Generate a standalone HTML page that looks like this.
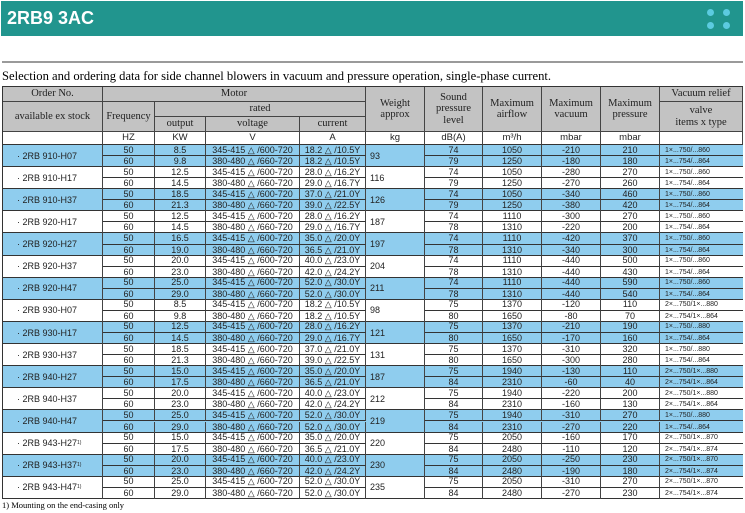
<!DOCTYPE html>
<html><head><meta charset="utf-8"><style>
body{margin:0;width:745px;height:513px;background:#fff;position:relative;overflow:hidden;font-family:"Liberation Sans",sans-serif}
.a{position:absolute;box-sizing:border-box}
.c{position:absolute;box-sizing:border-box;display:flex;align-items:center;justify-content:center;white-space:nowrap;font-size:9px;color:#222;line-height:1}
.h{font-family:"Liberation Serif",serif;font-size:10.5px;text-align:center;flex-direction:column;line-height:1.05;background:#c3c3c3;border-right:1px solid #444;border-bottom:1px solid #444}
.dot{position:absolute;width:7px;height:7px;border-radius:50%;background:#5ccbe0}
</style></head><body>
<div class="a" style="left:1px;top:1px;width:742px;height:35px;background:#21958e">
<div class="a" style="left:6px;top:7px;color:#fff;font-weight:bold;font-size:18px">2RB9 3AC</div>
<div class="dot" style="left:706px;top:8px"></div>
<div class="dot" style="left:722px;top:8px"></div>
<div class="dot" style="left:706px;top:21px"></div>
<div class="dot" style="left:722px;top:21px"></div>
</div>
<div class="a" style="left:2px;top:61px;width:741px;height:2px;background:#9a9a9a"></div>
<div class="a" style="left:2px;top:69px;font-family:'Liberation Serif',serif;font-size:12.6px;white-space:nowrap">Selection and ordering data for side channel blowers in vacuum and pressure operation, single-phase current.</div>
<div id="tbl" class="a" style="left:2px;top:86px;width:741px;height:413px;border:1px solid #333"></div>
<div class="a" style="left:2px;top:500px;font-family:'Liberation Serif',serif;font-size:8.5px;white-space:nowrap">1) Mounting on the end-casing only</div>
<script>
const models=["2RB 910-H07","2RB 910-H17","2RB 910-H37","2RB 920-H17","2RB 920-H27","2RB 920-H37","2RB 920-H47","2RB 930-H07","2RB 930-H17","2RB 930-H37","2RB 940-H27","2RB 940-H37","2RB 940-H47","2RB 943-H27","2RB 943-H37","2RB 943-H47"];
const footMarks=[0,0,0,0,0,0,0,0,0,0,0,0,0,1,1,1];
const weights=[93,116,126,187,197,204,211,98,121,131,187,212,219,220,230,235];
const kw=[[8.5,9.8],[12.5,14.5],[18.5,21.3],[12.5,14.5],[16.5,19.0],[20.0,23.0],[25.0,29.0],[8.5,9.8],[12.5,14.5],[18.5,21.3],[15.0,17.5],[20.0,23.0],[25.0,29.0],[15.0,17.5],[20.0,23.0],[25.0,29.0]];
const amps=[["18.2","10.5","18.2","10.5"],["28.0","16.2","29.0","16.7"],["37.0","21.0","39.0","22.5"],["28.0","16.2","29.0","16.7"],["35.0","20.0","36.5","21.0"],["40.0","23.0","42.0","24.2"],["52.0","30.0","52.0","30.0"],["18.2","10.5","18.2","10.5"],["28.0","16.2","29.0","16.7"],["37.0","21.0","39.0","22.5"],["35.0","20.0","36.5","21.0"],["40.0","23.0","42.0","24.2"],["52.0","30.0","52.0","30.0"],["35.0","20.0","36.5","21.0"],["40.0","23.0","42.0","24.2"],["52.0","30.0","52.0","30.0"]];
const sound=[[74,79],[74,79],[74,79],[74,78],[74,78],[74,78],[74,78],[75,80],[75,80],[75,80],[75,84],[75,84],[75,84],[75,84],[75,84],[75,84]];
const airflow=[[1050,1250],[1050,1250],[1050,1250],[1110,1310],[1110,1310],[1110,1310],[1110,1310],[1370,1650],[1370,1650],[1370,1650],[1940,2310],[1940,2310],[1940,2310],[2050,2480],[2050,2480],[2050,2480]];
const vacuum=[[-210,-180],[-280,-270],[-340,-380],[-300,-220],[-420,-340],[-440,-440],[-440,-440],[-120,-80],[-210,-170],[-310,-300],[-130,-60],[-220,-160],[-310,-270],[-160,-110],[-250,-190],[-310,-270]];
const pressure=[[210,180],[270,260],[460,420],[270,200],[370,300],[500,430],[590,540],[110,70],[190,160],[320,280],[110,40],[200,130],[270,220],[170,120],[230,180],[270,230]];
const valves=[["1×...750/...860","1×...754/...864"],["1×...750/...860","1×...754/...864"],["1×...750/...860","1×...754/...864"],["1×...750/...860","1×...754/...864"],["1×...750/...860","1×...754/...864"],["1×...750/...860","1×...754/...864"],["1×...750/...860","1×...754/...864"],["2×...750/1×...880","2×...754/1×...864"],["1×...750/...880","1×...754/...864"],["1×...750/...880","1×...754/...864"],["2×...750/1×...880","2×...754/1×...864"],["2×...750/1×...880","2×...754/1×...864"],["1×...750/...880","1×...754/...864"],["2×...750/1×...870","2×...754/1×...874"],["2×...750/1×...870","2×...754/1×...874"],["2×...750/1×...870","2×...754/1×...874"]];
const T=document.getElementById('tbl');
const X=[0,100,152,203,297,363,422,480,539,598,657,740];
function cell(x,y,w,h,txt,cls,name,extra){const d=document.createElement('div');d.className=cls;d.style.left=x+'px';d.style.top=y+'px';d.style.width=w+'px';d.style.height=h+'px';if(extra)d.style.cssText+=extra;d.innerHTML=txt;


T.appendChild(d);return d;}
cell(0,0,100,15,"Order No.","c h","header-order-no");
cell(100,0,263,15,"Motor","c h","header-motor");
cell(0,15,100,30,"available ex stock","c h","header-ex-stock");
cell(100,15,52,30,"Frequency","c h","header-frequency");
cell(152,15,211,15,"rated","c h","header-rated");
cell(152,30,51,15,"output","c h","header-output");
cell(203,30,94,15,"voltage","c h","header-voltage");
cell(297,30,66,15,"current","c h","header-current");
cell(363,0,59,45,"Weight<br>approx","c h","header-weight");
cell(422,0,58,45,"Sound<br>pressure<br>level","c h","header-sound");
cell(480,0,59,45,"Maximum<br>airflow","c h","header-airflow");
cell(539,0,59,45,"Maximum<br>vacuum","c h","header-vacuum");
cell(598,0,59,45,"Maximum<br>pressure","c h","header-pressure");
cell(657,0,83,15,"Vacuum relief","c h","header-vacuum-relief");
cell(657,15,83,30,"valve<br>items x type","c h","header-valve");
const units=["","HZ","KW","V","A","kg","dB(A)","m³/h","mbar","mbar",""];
for(let i=0;i<11;i++)cell(X[i],45,X[i+1]-X[i],13,units[i],"c","unit-"+i,"border-right:1px solid #444;border-bottom:1px solid #333;font-size:9.5px");
const top0=58,rh=11.06;
for(let m=0;m<models.length;m++){
 const y=top0+m*rh*2,bg=m%2===0?'#8fcdee':'#fff';
 const g=document.createElement('div');g.className='a';g.style.cssText=`left:0;top:${y}px;width:740px;height:${rh*2}px;background:${bg};border-bottom:1px solid #333`;
 
 
 T.appendChild(g);
 cell(0,y,100,rh*2,"· "+models[m]+(footMarks[m]?"<sup style='font-size:5px'>1)</sup>":""),"c","model-name","justify-content:flex-start;padding-left:14px;border-right:1px solid #444");
 cell(363,y,59,rh*2,weights[m],"c","weight","justify-content:flex-start;padding-left:4px;border-right:1px solid #444");
 for(let s=0;s<2;s++){
  const yy=y+s*rh,bb=s===0?"border-bottom:1px solid #333;":"";
  const vals=[s?60:50,kw[m][s].toFixed(1),s?"380-480 △ /660-720":"345-415 △ /600-720",amps[m][s*2]+" △ /"+amps[m][s*2+1]+"Y"];
  for(let k=0;k<4;k++)cell(X[k+1],yy,X[k+2]-X[k+1],rh,vals[k],"c","motor-value",bb+"border-right:1px solid #444");
  const v2=[sound[m][s],airflow[m][s],vacuum[m][s],pressure[m][s]];
  for(let k=0;k<4;k++)cell(X[k+6],yy,X[k+7]-X[k+6],rh,v2[k],"c","perf-value",bb+"border-right:1px solid #444");
  cell(657,yy,83,rh,valves[m][s],"c","valve-value",bb+"justify-content:flex-start;padding-left:5px;font-size:7px");
 }
}
</script>
</body></html>
